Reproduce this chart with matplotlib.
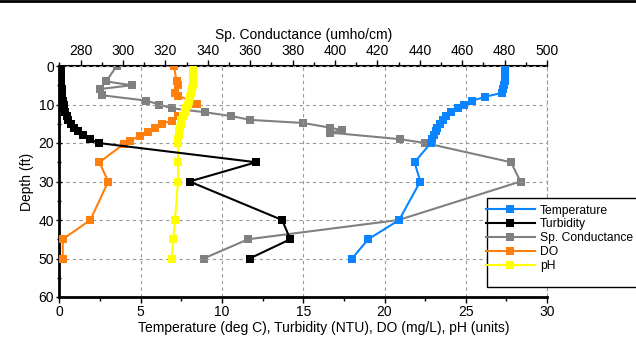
import matplotlib
matplotlib.use('Agg')
from matplotlib import pyplot as plt
from matplotlib.patches import Rectangle
from matplotlib.ticker import MultipleLocator

plt.rcParams['font.family'] = ['Liberation Sans', 'DejaVu Sans']

# sonde profile (temperature, turbidity, pH share depths)
sonde_depth = [0, 1, 2, 3, 4, 5, 6, 7, 8, 9, 10, 11, 12, 13, 14, 15, 16, 17, 18, 19, 20,
               25, 30, 40, 45, 50]
temperature = [27.4, 27.4, 27.4, 27.4, 27.4, 27.35, 27.3, 27.2, 26.2, 25.4, 24.9, 24.5, 24.1, 23.8,
               23.6, 23.4, 23.25, 23.15, 23.05, 22.95, 22.85,
               21.85, 22.2, 20.9, 19.0, 18.0]
turbidity = [0.1, 0.1, 0.1, 0.1, 0.1, 0.12, 0.13, 0.15, 0.17, 0.2, 0.25, 0.3, 0.35, 0.45,
             0.55, 0.7, 0.9, 1.15, 1.45, 1.85, 2.4,
             12.1, 8.0, 13.7, 14.2, 11.7]
ph = [8.2, 8.2, 8.2, 8.2, 8.2, 8.2, 8.15, 8.1, 8.05, 7.95, 7.9, 7.8, 7.7, 7.6,
      7.5, 7.45, 7.4, 7.35, 7.35, 7.3, 7.3,
      7.3, 7.3, 7.1, 7.0, 6.9]

cond_depth = [0, 4, 5, 6, 7.6, 9, 10, 11, 12, 13, 14, 14.8, 16, 16.7, 17.3, 19, 20, 25, 30, 40, 45, 50]
conductance = [297, 292, 304, 289, 290, 311, 317, 323, 338.5, 351, 360, 385, 397.5, 403.5, 397.5,
               430.5, 442.5, 483, 487.5, 430, 359, 338]

do_depth = [0, 4, 5, 7, 7.7, 9.8, 13, 14.2, 15, 16, 17.2, 18.1, 19.4, 20.3, 25, 30, 40, 45, 50]
dissolved_oxygen = [7.05, 7.2, 7.3, 7.1, 7.3, 8.45, 7.3, 6.9, 6.3, 5.9, 5.45, 4.95, 4.35, 3.95,
                    2.45, 3.0, 1.9, 0.2, 0.2]

BLUE = '#0a84ff'
ORANGE = '#ff7f0e'
GRAY = '#808080'
YELLOW = '#ffff00'


def plot_data(ax, ax_top):
    style = dict(marker='s', markersize=5.8, linewidth=1.5, markeredgewidth=0)
    lines = []
    lines += ax.plot(temperature, sonde_depth, color=BLUE, label='Temperature', zorder=5, **style)
    lines += ax.plot(turbidity, sonde_depth, color='black', label='Turbidity', zorder=4, **style)
    lines += ax_top.plot(conductance, cond_depth, color=GRAY, label='Sp. Conductance', **style)
    lines += ax.plot(dissolved_oxygen, do_depth, color=ORANGE, label='DO', zorder=3, **style)
    lines += ax.plot(ph, sonde_depth, color=YELLOW, label='pH', zorder=3, **style)
    return lines


def format_graphic(fig, ax, ax_top):
    ax.set_xlim(0, 30)
    ax.set_ylim(60, 0)
    ax.xaxis.set_major_locator(MultipleLocator(5))
    ax.xaxis.set_minor_locator(MultipleLocator(2.5))
    ax.yaxis.set_major_locator(MultipleLocator(10))
    ax.yaxis.set_minor_locator(MultipleLocator(5))
    ax.grid(True, which='major', color='#999999', linestyle=(0, (3, 3)), linewidth=0.8)
    ax.set_axisbelow(True)

    ax_top.set_xlim(270, 500)
    ax_top.xaxis.set_minor_locator(MultipleLocator(10))
    ax_top.set_xticks(range(280, 501, 20))

    for a in (ax, ax_top):
        a.tick_params(axis='both', which='both', labelsize=10, length=3, width=1, pad=2)
        a.tick_params(axis='both', which='major', length=4)
    ax.tick_params(axis='y', which='both', direction='inout')
    for side in ('left', 'bottom'):
        ax.spines[side].set_linewidth(2)
    ax.spines['right'].set_visible(False)
    ax.spines['top'].set_visible(False)
    ax_top.spines['right'].set_color('#999999')
    ax_top.spines['right'].set_linestyle((0, (3, 3)))
    ax_top.spines['top'].set_linewidth(1.5)
    ax_top.spines['top'].set_linestyle((0, (2, 1)))

    ax.set_xlabel('Temperature (deg C), Turbidity (NTU), DO (mg/L), pH (units)', fontsize=10)
    ax.xaxis.set_label_coords(0.543, -0.105)
    ax.set_ylabel('Depth (ft)', fontsize=10, labelpad=3)
    ax_top.set_xlabel('Sp. Conductance (umho/cm)', fontsize=10, labelpad=3)


fig = plt.figure(dpi=100, figsize=(6.36, 3.41))
ax = fig.add_axes([59.5 / 636, 1 - 297 / 341, (547 - 59.5) / 636, (297 - 66) / 341])
ax_top = ax.twiny()
ax.set_zorder(ax_top.get_zorder() + 1)
ax.patch.set_visible(False)

lines = plot_data(ax, ax_top)
format_graphic(fig, ax, ax_top)

# legend box runs off the right edge of the picture
fig.add_artist(Rectangle((486.7 / 636, 1 - 287 / 341), 0.3, (287 - 198.3) / 341,
                         transform=fig.transFigure, facecolor='white', edgecolor='black',
                         linewidth=1, zorder=10))
legend = fig.legend(handles=lines, loc='upper left', bbox_to_anchor=(482 / 636, 1 - 201 / 341),
                    fontsize=8.7, frameon=False, handlelength=4.1, handletextpad=0.4,
                    labelspacing=0.15, borderpad=0.3, borderaxespad=0)
legend.set_zorder(11)

fig.add_artist(plt.Line2D([0, 1], [0.997, 0.997], color='black', linewidth=2))

fig.savefig('out.png', dpi=100)
